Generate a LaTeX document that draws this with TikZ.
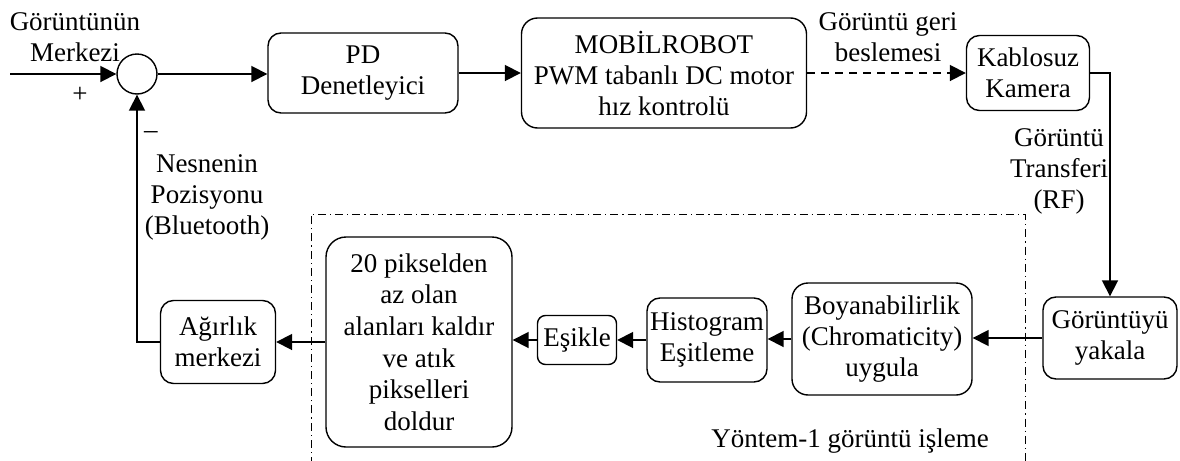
\documentclass[tikz,border=0pt]{standalone}
\usepackage{fontspec}
\setmainfont{Liberation Serif}
\usetikzlibrary{arrows.meta}
\begin{document}
\begin{tikzpicture}[x=0.5pt,y=-0.5pt,
  font=\fontsize{13.5pt}{15.5pt}\selectfont,
  blk/.style={draw,line width=0.7pt,rounded corners=6.5pt,align=center,inner sep=1pt},
  lbl/.style={align=center,inner sep=0pt},
  conn/.style={line width=0.9pt,-{Triangle[length=8pt,width=8pt]}},
  frame/.style={line width=0.5pt,dash pattern=on 4pt off 2pt on 0.6pt off 2pt}]
\useasboundingbox[fill=white] (0,0) rectangle (1180,461);

% forward path
\node[draw,circle,line width=0.7pt,minimum size=20pt,inner sep=0pt] (sum) at (137,74) {};
\node[blk,minimum width=95pt,minimum height=40pt] (pd) at (363,73) {PD\\Denetleyici};
\node[blk,minimum width=142.5pt,minimum height=55pt,rounded corners=8pt] (mob) at (664,73) {MOBİLROBOT\\PWM tabanlı DC motor\\hız kontrolü};
\node[blk,minimum width=61.5pt,minimum height=37.5pt] (cam) at (1028,73) {Kablosuz\\Kamera};

% image processing chain
\node[blk,minimum width=67pt,minimum height=41pt] (grab) at (1110,338) {Görüntüyü\\yakala};
\node[blk,minimum width=90pt,minimum height=56pt,rounded corners=8pt] (chrom) at (882,339) {Boyanabilirlik\\(Chromaticity)\\uygula};
\node[blk,minimum width=60pt,minimum height=42pt] (hist) at (707,340) {Histogram\\Eşitleme};
\node[blk,minimum width=39.5pt,minimum height=24.5pt,rounded corners=4pt] (thr) at (577,340) {Eşikle};
\node[blk,minimum width=93pt,minimum height=105pt,rounded corners=10pt,
  font=\fontsize{13.5pt}{15.8pt}\selectfont] (big) at (419,342) {20 pikselden\\az olan\\alanları kaldır\\ve atık\\pikselleri\\doldur};
\node[blk,minimum width=57.5pt,minimum height=41.5pt] (cog) at (218,342) {Ağırlık\\merkezi};

% processing region
\draw[frame] (311,465) -- (311,214) -- (1025,214) -- (1025,465);
\node[lbl] (meth) at (850,441) {Yöntem-1 görüntü işleme};

% labels
\coordinate (in) at (10,74);
\node[lbl] (ref) at (75,37) {Görüntünün\\Merkezi};
\node[lbl] (plus) at (80,95) {+};
\node[lbl] (minus) at (151,135) {–};
\node[lbl] (pos) at (207,197) {Nesnenin\\Pozisyonu\\(Bluetooth)};
\node[lbl] (fb) at (888,37) {Görüntü geri\\beslemesi};
\node[lbl] (rf) at (1059,171) {Görüntü\\Transferi\\(RF)};

% connectors
\draw[conn] (in) -- (sum.west);
\draw[conn] (sum.east) -- (sum.east -| pd.west);
\draw[conn] (pd.east) -- (mob.west);
\draw[conn,dash pattern=on 4pt off 3pt] (mob.east) -- (cam.west);
\draw[conn] (cam.east) -| (grab.north);
\draw[conn] (grab.west) -- (grab.west -| chrom.east);
\draw[conn] (chrom.west) -- (chrom.west -| hist.east);
\draw[conn] (hist.west) -- (hist.west -| thr.east);
\draw[conn] (thr.west) -- (thr.west -| big.east);
\draw[conn] (big.west) -- (big.west -| cog.east);
\draw[conn] (cog.west) -| (sum.south);
\end{tikzpicture}
\end{document}
